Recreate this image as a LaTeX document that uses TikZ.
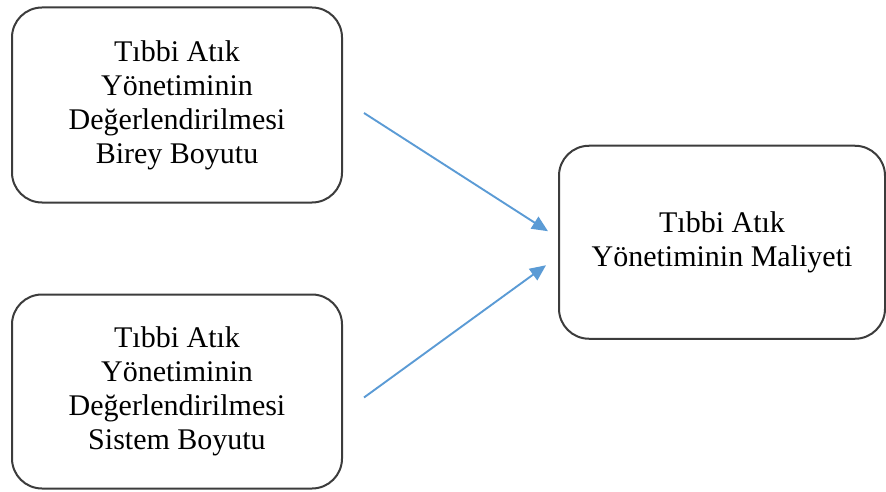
\documentclass[tikz,border=0pt]{standalone}
\usepackage{fontspec}
\setmainfont{Liberation Serif}
\usepackage{tikz}
\usetikzlibrary{arrows.meta, positioning, calc}
\definecolor{boxEdge}{RGB}{60,60,60}
\definecolor{arrBlue}{RGB}{91,155,213}

\begin{document}
\begin{tikzpicture}[
    x=1pt, y=-1pt,
    box/.style={rectangle, draw=boxEdge, line width=2pt, rounded corners=30pt, minimum width=330pt, minimum height=195pt, inner sep=0pt, align=center, font=\fontsize{30}{34}\selectfont},
    arrow/.style={-{Triangle[length=16pt, width=14pt]}, line width=1.9pt, arrBlue}
]
\useasboundingbox (0,0) rectangle (886,492);

% --- Left: the two dimensions ---
\node[box] (birey) at (177,105)
    {Tıbbi Atık\\Yönetiminin\\Değerlendirilmesi\\Birey Boyutu};

\node[box, minimum height=194pt, below=90pt of birey] (sistem)
    {Tıbbi Atık\\Yönetiminin\\Değerlendirilmesi\\Sistem Boyutu};

% --- Right: cost ---
\node[box, minimum width=326pt, minimum height=193pt,
      right=215pt of $(birey.east)!0.5!(sistem.east)$, yshift=6pt] (maliyet)
    {Tıbbi Atık\\Yönetiminin Maliyeti};

% === ARROWS ===
\coordinate (b1) at ([shift={(21pt,-8pt)}]birey.east);
\coordinate (m1) at ([shift={(-10pt,11pt)}]maliyet.west);
\coordinate (s1) at ([shift={(21pt,-6pt)}]sistem.east);
\coordinate (m2) at ([shift={(-12pt,-23pt)}]maliyet.west);

\draw[arrow] (b1) -- (m1);
\draw[arrow] (s1) -- (m2);

\end{tikzpicture}
\end{document}
